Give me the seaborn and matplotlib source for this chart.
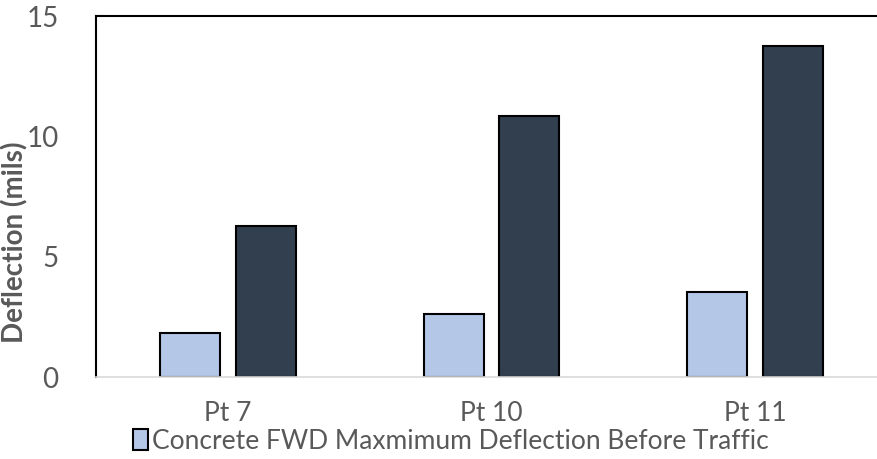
import matplotlib
matplotlib.use("Agg")
import matplotlib.pyplot as plt
import seaborn as sns
import pandas as pd
from matplotlib.patches import Patch

# Falling-weight deflectometer readings at three test points (mils)
points = ["Pt 7", "Pt 10", "Pt 11"]
before_traffic = [1.83, 2.62, 3.53]
after_traffic = [6.27, 10.84, 13.75]
series_names = ["Concrete FWD Maxmimum Deflection Before Traffic",
                "Concrete FWD Maxmimum Deflection After Traffic"]
y_ticks = [0, 5, 10, 15]

df = pd.DataFrame({
    "Point": points * 2,
    "Deflection": before_traffic + after_traffic,
    "Series": [series_names[0]] * len(points) + [series_names[1]] * len(points),
})

sns.set_theme(style="white")
plt.rcParams["font.family"] = ["Lato", "DejaVu Sans"]

text_color = "#595959"
light = "#B4C7E7"
dark = "#323F4F"

fig = plt.figure(figsize=(8.78, 4.59), dpi=100)
ax = fig.add_axes([0.1093, 0.1786, 0.901, 0.7865])

sns.barplot(data=df, x="Point", y="Deflection", hue="Series",
            palette=[light, dark], saturation=1, width=0.573, gap=0.204,
            edgecolor="black", linewidth=1.5, legend=False, ax=ax)

ax.set_xlim(-0.5, 2.5)
ax.set_ylim(0, 15)
ax.set_yticks(y_ticks)
ax.tick_params(axis="y", length=0, labelsize=20, labelcolor=text_color, pad=27)
ax.tick_params(axis="x", length=0, labelsize=19, labelcolor=text_color, pad=17)
ax.set_xlabel("")
ax.set_ylabel("Deflection (mils)", fontsize=20, fontweight="bold", color=text_color)
ax.yaxis.set_label_coords(-0.085, 0.374)

for side in ["left", "top"]:
    ax.spines[side].set_visible(True)
    ax.spines[side].set_color("black")
    ax.spines[side].set_linewidth(1.5)
ax.spines["right"].set_visible(False)
ax.spines["bottom"].set_color("#D9D9D9")
ax.spines["bottom"].set_linewidth(1.2)

handle = Patch(facecolor=light, edgecolor="black", linewidth=1.5)
fig.legend([handle], [series_names[0]], loc="center left",
           bbox_to_anchor=(0.152, 0.038), frameon=False, fontsize=19,
           labelcolor=text_color, handlelength=0.55, handleheight=0.85,
           handletextpad=0.15, borderpad=0, borderaxespad=0)

fig.savefig("out.png", dpi=100)
